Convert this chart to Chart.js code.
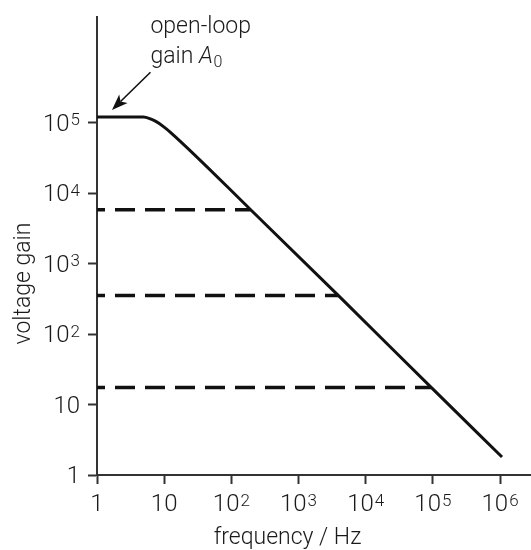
<!DOCTYPE html>
<html>
<head>
<meta charset="utf-8">
<script src="https://cdn.jsdelivr.net/npm/chart.js@4/dist/chart.umd.min.js"></script>
<style>
  html, body { margin: 0; padding: 0; background: #fff; }
  #wrap { width: 531px; height: 550px; position: relative; }
</style>
</head>
<body>
<div id="wrap"><canvas id="c"></canvas></div>
<script>
// ---- data ----
const curveFreq = [1, 2, 4.9, 6.25, 7.86, 9.77, 12.4, 194, 3900, 94400, 1.07e6];
const curveGain = [1.2e5, 1.2e5, 1.2e5, 1.13e5, 1.02e5, 8.8e4, 7.3e4, 5820, 354, 17.5, 1.8];
const closedLoopGain = [5820, 354, 17.5];
const closedLoopCutoff = [194, 3900, 94400];
const xTickValues = [1, 10, 100, 1e3, 1e4, 1e5, 1e6];
const xTickBase = ['1', '10', '10', '10', '10', '10', '10'];
const xTickExp = ['', '', '2', '3', '4', '5', '6'];
const yTickValues = [1, 10, 100, 1e3, 1e4, 1e5];
const yTickBase = ['1', '10', '10', '10', '10', '10'];
const yTickExp = ['', '', '2', '3', '4', '5'];
const arrowTail = { x: 6.25, y: 5.2e5 };
const arrowTip = { x: 1.67, y: 1.52e5 };
const xTitle = 'frequency / Hz';
const yTitle = 'voltage gain';
const noteLine1 = 'open-loop';
const noteLine2a = 'gain ';
const noteLine2b = 'A';
const noteLine2c = '0';

const FONT = 'Roboto, "Liberation Sans", sans-serif';
const W = '300 ';
const INK = '#111';
const TEXT = '#1a1a1a';
const AXIS = '#333';

const datasets = [{
  data: curveFreq.map((f, i) => ({ x: f, y: curveGain[i] })),
  borderColor: INK,
  borderWidth: 3,
  pointRadius: 0,
  cubicInterpolationMode: 'monotone',
  fill: false
}];
closedLoopGain.forEach((g, i) => {
  datasets.push({
    data: [{ x: 1, y: g }, { x: closedLoopCutoff[i], y: g }],
    borderColor: INK,
    borderWidth: 3.5,
    borderDash: [20, 10],
    borderDashOffset: 12,
    pointRadius: 0,
    fill: false
  });
});

function labelWidth(ctx, base, exp) {
  ctx.font = W + '24px ' + FONT;
  let w = ctx.measureText(base).width;
  if (exp) { ctx.font = W + '17px ' + FONT; w += 1 + ctx.measureText(exp).width; }
  return w;
}
function drawLabel(ctx, base, exp, left, baseline) {
  ctx.textAlign = 'left'; ctx.textBaseline = 'alphabetic';
  ctx.font = W + '24px ' + FONT;
  ctx.fillText(base, left, baseline);
  if (exp) {
    const bw = ctx.measureText(base).width;
    ctx.font = W + '17px ' + FONT;
    ctx.fillText(exp, left + bw + 1, baseline - 5.5);
  }
}

const notes = {
  id: 'notes',
  afterDraw(chart) {
    const ctx = chart.ctx;
    const xs = chart.scales.x, ys = chart.scales.y;
    const ca = chart.chartArea;
    ctx.save();
    ctx.fillStyle = TEXT;
    // tick labels
    xTickValues.forEach((v, i) => {
      const px = xs.getPixelForValue(v);
      const w = labelWidth(ctx, xTickBase[i], xTickExp[i]);
      drawLabel(ctx, xTickBase[i], xTickExp[i], px - w / 2, ca.bottom + 36);
    });
    yTickValues.forEach((v, i) => {
      const py = ys.getPixelForValue(v);
      const w = labelWidth(ctx, yTickBase[i], yTickExp[i]);
      drawLabel(ctx, yTickBase[i], yTickExp[i], ca.left - 17 - w, py + 8);
    });
    // arrow
    const tx = xs.getPixelForValue(arrowTail.x), ty = ys.getPixelForValue(arrowTail.y);
    const hx = xs.getPixelForValue(arrowTip.x), hy = ys.getPixelForValue(arrowTip.y);
    const ang = Math.atan2(hy - ty, hx - tx);
    const hl = 16, hw = 6;
    const bx = hx - hl * Math.cos(ang), by = hy - hl * Math.sin(ang);
    ctx.strokeStyle = INK; ctx.fillStyle = INK; ctx.lineWidth = 1.6;
    ctx.beginPath(); ctx.moveTo(tx, ty); ctx.lineTo(bx + 4 * Math.cos(ang), by + 4 * Math.sin(ang)); ctx.stroke();
    ctx.beginPath();
    ctx.moveTo(hx, hy);
    ctx.lineTo(bx + hw * Math.sin(ang), by - hw * Math.cos(ang));
    ctx.lineTo(bx + 4 * Math.cos(ang), by + 4 * Math.sin(ang));
    ctx.lineTo(bx - hw * Math.sin(ang), by + hw * Math.cos(ang));
    ctx.closePath(); ctx.fill();
    // note text
    ctx.fillStyle = TEXT;
    ctx.textAlign = 'left'; ctx.textBaseline = 'alphabetic';
    ctx.font = W + '23px ' + FONT;
    ctx.fillText(noteLine1, tx, ty - 39);
    ctx.fillText(noteLine2a, tx, ty - 9);
    let w = ctx.measureText(noteLine2a).width;
    ctx.font = 'italic ' + W + '23px ' + FONT;
    ctx.fillText(noteLine2b, tx + w, ty - 9);
    w += ctx.measureText(noteLine2b).width;
    ctx.font = W + '16px ' + FONT;
    ctx.fillText(noteLine2c, tx + w + 0.5, ty - 5);
    // axis titles
    ctx.font = W + '23px ' + FONT;
    ctx.textAlign = 'center';
    ctx.fillText(xTitle, ca.left + 190.5, ca.bottom + 69);
    ctx.translate(ca.left - 67, ca.top + 266.5);
    ctx.rotate(-Math.PI / 2);
    ctx.fillText(yTitle, 0, 0);
    ctx.restore();
  }
};

function axisCommon(values) {
  return {
    type: 'logarithmic',
    afterBuildTicks(scale) { scale.ticks = values.map(v => ({ value: v })); },
    ticks: { display: false, autoSkip: false, maxRotation: 0, minRotation: 0 },
    grid: {
      display: true, drawOnChartArea: false, drawTicks: true,
      tickLength: 9, tickWidth: 2, tickColor: AXIS
    },
    border: { display: true, color: AXIS, width: 2 },
    title: { display: false }
  };
}

const xOpts = axisCommon(xTickValues);
xOpts.min = 1; xOpts.max = Math.pow(10, 6.461);
xOpts.afterFit = function (s) { s.height = 75; };
const yOpts = axisCommon(yTickValues);
yOpts.min = 1; yOpts.max = Math.pow(10, 6.5);
yOpts.afterFit = function (s) { s.width = 97; };

new Chart(document.getElementById('c'), {
  type: 'line',
  data: { datasets },
  options: {
    responsive: true, maintainAspectRatio: false, animation: false,
    devicePixelRatio: 1,
    layout: { padding: { top: 17, left: 0, right: 0, bottom: 0 } },
    scales: { x: xOpts, y: yOpts },
    plugins: { legend: { display: false }, tooltip: { enabled: false } }
  },
  plugins: [notes]
});
</script>
</body>
</html>
